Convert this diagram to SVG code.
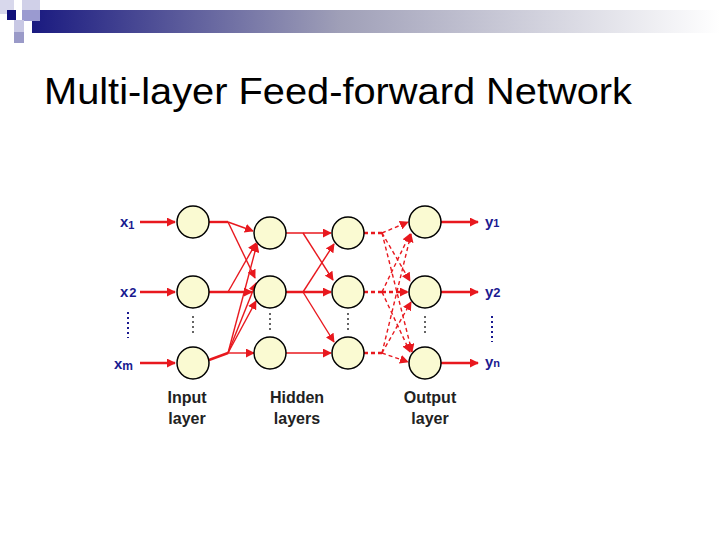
<svg xmlns="http://www.w3.org/2000/svg" width="720" height="540" viewBox="0 0 720 540">
<defs>
<linearGradient id="bar" x1="0" x2="1" y1="0" y2="0"><stop offset="0" stop-color="#1a1a80"/><stop offset="0.45" stop-color="#a0a0b8"/><stop offset="1" stop-color="#ffffff"/></linearGradient>
<marker id="ah" viewBox="0 0 10 10" refX="9" refY="5" markerWidth="9" markerHeight="9" markerUnits="userSpaceOnUse" orient="auto"><path d="M0,0L10,5L0,10z" fill="#e8181e"/></marker>
</defs>
<style>
.n{fill:#fafad2;stroke:#000;stroke-width:1.5}
.c{stroke:#e8181e;stroke-width:1.4;fill:none}
.t{stroke-width:2.4}
.d{stroke-dasharray:4 3}
.lb{font-family:"Liberation Sans",Arial,sans-serif;font-size:16px;font-weight:bold;fill:#222;text-anchor:middle}
.v{font-family:"Liberation Sans",Arial,sans-serif;font-size:15px;font-weight:bold;fill:#1a1a90}
.dot{stroke:#1a1a90;stroke-width:2;stroke-dasharray:2 3}
.dk{stroke:#000;stroke-width:1.2;stroke-dasharray:2 3}
</style>
<rect width="720" height="540" fill="#fff"/>
<g id="header">
<rect x="32" y="10" width="688" height="23" fill="url(#bar)"/>
<rect x="0" y="0" width="14" height="14" fill="#d8d8ec"/>
<rect x="22" y="0" width="18" height="10" fill="#d0d0e8"/>
<rect x="7" y="10" width="9" height="10" fill="#10107a"/>
<rect x="22" y="10" width="18" height="11" fill="#9a9ad0"/>
<rect x="14" y="20" width="10" height="12" fill="#c8c8e4"/>
<rect x="14" y="32" width="10" height="11" fill="#9a9ac8"/>
<text x="44" y="104" font-family="'Liberation Sans',Arial,sans-serif" font-size="36" textLength="588" lengthAdjust="spacingAndGlyphs" fill="#000">Multi-layer Feed-forward Network</text>
</g>
<g id="connectors">
<path class="c t" d="M140,222H175" marker-end="url(#ah)"/>
<path class="c t" d="M140,292H175" marker-end="url(#ah)"/>
<path class="c t" d="M140,363H175" marker-end="url(#ah)"/>
<path class="c t" d="M209,222H228"/>
<path class="c t" d="M209,292H252" marker-end="url(#ah)"/>
<path class="c t" d="M209,360L228,353"/>
<path class="c" d="M228,222L253,231" marker-end="url(#ah)"/>
<path class="c" d="M228,222L255,278" marker-end="url(#ah)"/>
<path class="c" d="M228,292L256,243" marker-end="url(#ah)"/>
<path class="c" d="M228,353L257,244" marker-end="url(#ah)"/>
<path class="c" d="M228,353L256,301" marker-end="url(#ah)"/>
<path class="c" d="M228,353L254,353" marker-end="url(#ah)"/>
<path class="c" d="M228,353L256,283" marker-end="url(#ah)"/>
<path class="c" d="M286,233H331" marker-end="url(#ah)"/>
<path class="c" d="M303,233L333,280" marker-end="url(#ah)"/>
<path class="c t" d="M286,292H331" marker-end="url(#ah)"/>
<path class="c" d="M303,292L334,244" marker-end="url(#ah)"/>
<path class="c" d="M303,292L334,342" marker-end="url(#ah)"/>
<path class="c" d="M286,353H331" marker-end="url(#ah)"/>
<path class="c t d" d="M364,233H382"/>
<path class="c t d" d="M364,292H382"/>
<path class="c t d" d="M364,353H382"/>
<path class="c d" d="M382,233L408,222" marker-end="url(#ah)"/>
<path class="c d" d="M382,233L410,281" marker-end="url(#ah)"/>
<path class="c d" d="M382,233L412,352" marker-end="url(#ah)"/>
<path class="c d t" d="M382,292H408" marker-end="url(#ah)"/>
<path class="c d" d="M382,292L410,234" marker-end="url(#ah)"/>
<path class="c d" d="M382,292L410,352" marker-end="url(#ah)"/>
<path class="c d" d="M382,353L411,234" marker-end="url(#ah)"/>
<path class="c d" d="M382,353L411,302" marker-end="url(#ah)"/>
<path class="c d" d="M382,353L408,362" marker-end="url(#ah)"/>
<path class="c t" d="M441,222H478" marker-end="url(#ah)"/>
<path class="c t" d="M441,292H478" marker-end="url(#ah)"/>
<path class="c t" d="M441,363H478" marker-end="url(#ah)"/>
</g>
<g id="input">
<circle class="n" cx="193" cy="222" r="16"/><circle class="n" cx="193" cy="292" r="16"/><circle class="n" cx="193" cy="363" r="16"/>
<path class="dk" d="M193,316V335"/>
<text class="lb" x="187" y="403">Input</text><text class="lb" x="187" y="424">layer</text>
</g>
<g id="hidden">
<circle class="n" cx="270" cy="233" r="16"/><circle class="n" cx="270" cy="292" r="16"/><circle class="n" cx="270" cy="353" r="16"/>
<circle class="n" cx="348" cy="233" r="16"/><circle class="n" cx="348" cy="292" r="16"/><circle class="n" cx="348" cy="353" r="16"/>
<path class="dk" d="M270,313V332M348,313V332"/>
<text class="lb" x="297" y="403">Hidden</text><text class="lb" x="297" y="424">layers</text>
</g>
<g id="output">
<circle class="n" cx="425" cy="222" r="16"/><circle class="n" cx="425" cy="292" r="16"/><circle class="n" cx="425" cy="363" r="16"/>
<path class="dk" d="M425,316V335"/>
<text class="lb" x="430" y="403">Output</text><text class="lb" x="430" y="424">layer</text>
</g>
<g id="labels">
<text class="v" x="120" y="227">x<tspan font-size="11" dy="2">1</tspan></text>
<text class="v" x="120" y="297">x<tspan dx="1" font-size="13">2</tspan></text>
<text class="v" x="114" y="369">x<tspan font-size="12" dy="1">m</tspan></text>
<path class="dot" d="M128,312V338"/>
<text class="v" x="485" y="227">y<tspan font-size="11">1</tspan></text>
<text class="v" x="485" y="297">y<tspan font-size="13">2</tspan></text>
<text class="v" x="485" y="367">y<tspan font-size="11">n</tspan></text>
<path class="dot" d="M492,316V342"/>
</g>
</svg>
